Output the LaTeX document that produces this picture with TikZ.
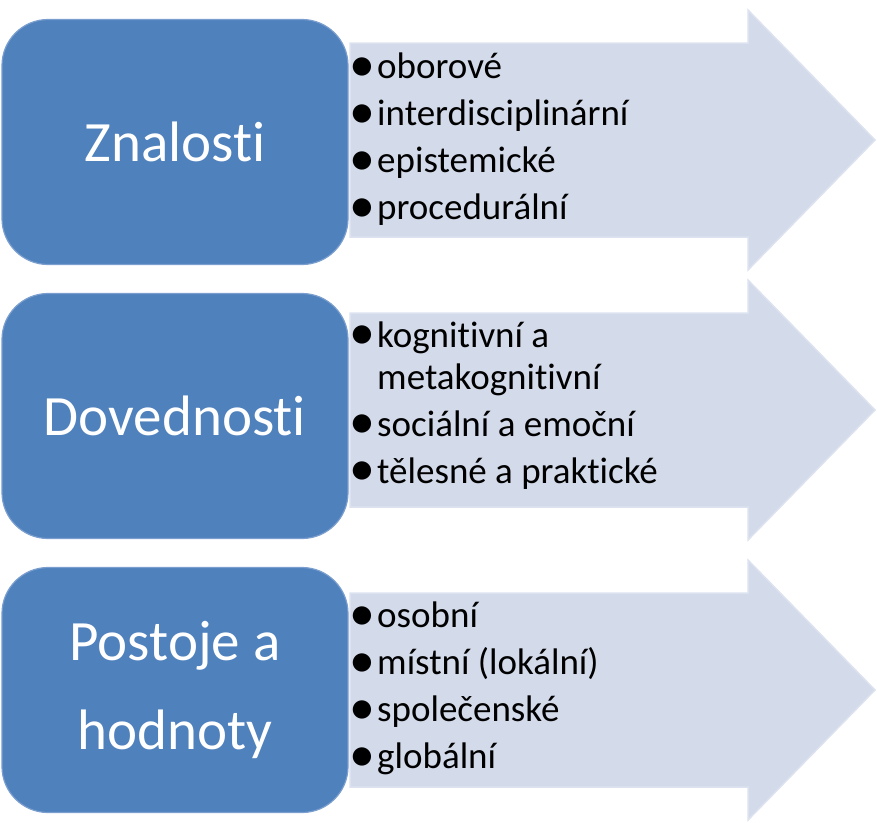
\documentclass[tikz,border=0pt]{standalone}
\usepackage{fontspec}
\setmainfont{Carlito}[Ligatures=NoCommon]
\usepackage{tikz}
\definecolor{boxblue}{RGB}{79,129,189}
\definecolor{boxedge}{RGB}{122,158,206}
\definecolor{arrowfill}{RGB}{211,218,234}
\definecolor{arrowedge}{RGB}{220,226,239}
\tikzset{
	catbox/.style = {
		rectangle,
		rounded corners=46pt,
		fill=boxblue,
		draw=boxedge,
		line width=1.2pt,
		minimum width=346pt,
		minimum height=245pt,
		text=white,
		align=center,
		font=\fontsize{57}{89}\selectfont
	},
	listarrow/.style = {
		fill=arrowfill,
		draw=arrowedge,
		line width=1.5pt,
		line join=miter
	},
	itemlist/.style = {
		anchor=west,
		inner sep=0pt,
		align=left,
		font=\fontsize{37}{47}\selectfont
	},
}
\newcommand{\itemdot}{\makebox[22pt][l]{\makebox[14pt][c]{\raisebox{-2.5pt}{\scalebox{1.4}{\textbullet}}}}}

\begin{document}
\begin{tikzpicture}[x=1pt,y=-1pt]
\useasboundingbox (0,0) rectangle (877,822);
% arrows behind the boxes
\coordinate (a1) at (350,140);
\coordinate (a2) at (350,410);
\coordinate (a3) at (350,690);
\filldraw [listarrow] (a1) ++(0,-97) -- ++(398,0) -- ++(0,-33) -- ++(127,130) -- ++(-127,130) -- ++(0,-33) -- ++(-398,0) -- cycle;
\filldraw [listarrow] (a2) ++(0,-97) -- ++(398,0) -- ++(0,-33) -- ++(127,130) -- ++(-127,130) -- ++(0,-33) -- ++(-398,0) -- cycle;
\filldraw [listarrow] (a3) ++(0,-97) -- ++(398,0) -- ++(0,-33) -- ++(127,130) -- ++(-127,130) -- ++(0,-33) -- ++(-398,0) -- cycle;
% category boxes
\node [catbox] (znalosti) at (175,142) {Znalosti};
\node [catbox] (dovednosti) at (175,416) {Dovednosti};
\node [catbox] (postoje) at (175,690) {Postoje a\\hodnoty};
% lists
\node [itemlist] (list1) at (355,140) {%
	\begin{tabular}{@{}l@{}l@{}}
	\itemdot & oborové\\
	\itemdot & interdisciplinární\\
	\itemdot & epistemické\\
	\itemdot & procedurální
	\end{tabular}};
\node [itemlist] (list2) at (355,406) {%
	\begin{tabular}{@{}l@{}l@{}}
	\itemdot & kognitivní a\\[-5pt]
	 & metakognitivní\\
	\itemdot & sociální a emoční\\
	\itemdot & tělesné a praktické
	\end{tabular}};
\node [itemlist] (list3) at (355,689) {%
	\begin{tabular}{@{}l@{}l@{}}
	\itemdot & osobní\\
	\itemdot & místní (lokální)\\
	\itemdot & společenské\\
	\itemdot & globální
	\end{tabular}};
\end{tikzpicture}
\end{document}
